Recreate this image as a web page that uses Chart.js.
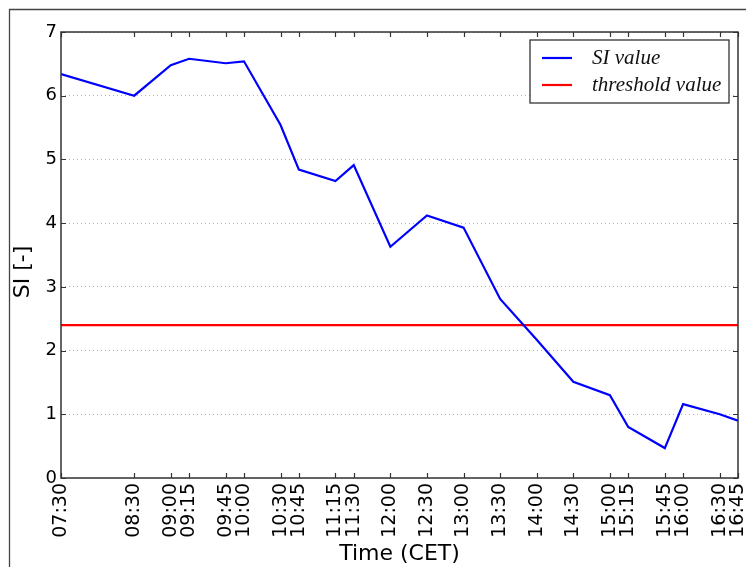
<!DOCTYPE html>
<html>
<head>
<meta charset="utf-8">
<script src="https://cdn.jsdelivr.net/npm/chart.js@4.4.1/dist/chart.umd.min.js"></script>
<style>
    html, body { margin: 0; padding: 0; background: #fff; }
    #wrap { width: 746px; height: 567px; position: relative; }
</style>
</head>
<body>
<div id="wrap"><canvas id="siChart" width="746" height="567"></canvas></div>
<script>
const timeLabels = ["07:30", "08:30", "09:00", "09:15", "09:45", "10:00", "10:30", "10:45",
    "11:15", "11:30", "12:00", "12:30", "13:00", "13:30", "14:00", "14:30",
    "15:00", "15:15", "15:45", "16:00", "16:30", "16:45"];
const siValues = [6.34, 6.0, 6.48, 6.58, 6.51, 6.54, 5.54, 4.84,
    4.66, 4.91, 3.63, 4.12, 3.93, 2.81, 2.17, 1.51,
    1.30, 0.80, 0.47, 1.16, 1.00, 0.90];
const thresholdValue = 2.4;
const yTicks = [0, 1, 2, 3, 4, 5, 6, 7];
const yTitle = "SI [-]";

const toMinutes = t => {
    const [h, m] = t.split(":").map(Number);
    return h * 60 + m;
};
const toLabel = v => {
    const h = Math.floor(v / 60), m = v % 60;
    return String(h).padStart(2, "0") + ":" + String(m).padStart(2, "0");
};
const xMinutes = timeLabels.map(toMinutes);

// figure frame + axes box + inward ticks (like matplotlib)
const framePlugin = {
    id: "frame",
    beforeDraw(chart) {
        const ctx = chart.ctx;
        ctx.save();
        ctx.strokeStyle = "#444";
        ctx.lineWidth = 1.3;
        ctx.beginPath();
        ctx.moveTo(9.5, chart.height);
        ctx.lineTo(9.5, 9.5);
        ctx.lineTo(chart.width, 9.5);
        ctx.stroke();

        // y axis title, sits a bit below the middle in the original
        ctx.translate(23, 272);
        ctx.rotate(-Math.PI / 2);
        ctx.font = "22px 'DejaVu Sans'";
        ctx.fillStyle = "#000";
        ctx.textAlign = "center";
        ctx.textBaseline = "middle";
        ctx.fillText(yTitle, 0, 0);
        ctx.restore();
    },
    afterDraw(chart) {
        const {ctx, chartArea: a, scales} = chart;
        ctx.save();
        ctx.strokeStyle = "#333";
        ctx.lineWidth = 1.2;
        ctx.beginPath();
        scales.x.ticks.forEach(t => {
            const px = Math.round(scales.x.getPixelForValue(t.value)) + 0.5;
            ctx.moveTo(px, a.bottom); ctx.lineTo(px, a.bottom - 5);
            ctx.moveTo(px, a.top); ctx.lineTo(px, a.top + 5);
        });
        scales.y.ticks.forEach(t => {
            const py = Math.round(scales.y.getPixelForValue(t.value)) + 0.5;
            ctx.moveTo(a.left, py); ctx.lineTo(a.left + 5, py);
            ctx.moveTo(a.right, py); ctx.lineTo(a.right - 5, py);
        });
        ctx.stroke();
        ctx.lineWidth = 1.5;
        ctx.strokeRect(a.left, a.top, a.right - a.left, a.bottom - a.top);

        // legend box in the upper right corner
        const bx = a.right - 208, by = a.top + 8, bw = 199, bh = 63;
        ctx.fillStyle = "#fff";
        ctx.fillRect(bx, by, bw, bh);
        ctx.lineWidth = 1.3;
        ctx.strokeStyle = "#333";
        ctx.strokeRect(bx, by, bw, bh);
        ctx.font = "italic 21px 'Liberation Serif'";
        ctx.textBaseline = "middle";
        chart.data.datasets.forEach((ds, i) => {
            const ly = by + 18 + i * 27;
            ctx.strokeStyle = ds.borderColor;
            ctx.lineWidth = 2.2;
            ctx.beginPath();
            ctx.moveTo(bx + 12, ly); ctx.lineTo(bx + 42, ly);
            ctx.stroke();
            ctx.fillStyle = "#111";
            ctx.fillText(ds.label, bx + 62, ly);
        });
        ctx.restore();
    }
};

const ctx = document.getElementById("siChart").getContext("2d");
new Chart(ctx, {
    type: "line",
    data: {
        datasets: [
            {
                label: "SI value",
                data: xMinutes.map((x, i) => ({x: x, y: siValues[i]})),
                borderColor: "#0000ff",
                borderWidth: 2.2,
                pointRadius: 0,
                tension: 0
            },
            {
                label: "threshold value",
                data: xMinutes.map(x => ({x: x, y: thresholdValue})),
                borderColor: "#ff0000",
                borderWidth: 2.2,
                pointRadius: 0,
                tension: 0
            }
        ]
    },
    options: {
        responsive: false,
        animation: false,
        layout: { padding: { top: 32, right: 8, left: 0, bottom: 0 } },
        plugins: { legend: { display: false }, tooltip: { enabled: false } },
        scales: {
            x: {
                type: "linear",
                min: xMinutes[0],
                max: xMinutes[xMinutes.length - 1],
                afterBuildTicks: scale => { scale.ticks = xMinutes.map(v => ({value: v})); },
                afterFit: scale => {
                    scale.height = 89;
                    scale.paddingLeft = 0;
                    scale.paddingRight = 0;
                },
                grid: { display: false, drawTicks: false },
                border: { display: false },
                ticks: {
                    autoSkip: false,
                    minRotation: 90,
                    maxRotation: 90,
                    padding: 5,
                    color: "#000",
                    font: { family: "DejaVu Sans", size: 19 },
                    callback: v => toLabel(v)
                },
                title: {
                    display: true,
                    text: "Time (CET)",
                    color: "#000",
                    font: { family: "DejaVu Sans", size: 22 },
                    padding: { top: 0, bottom: 0 }
                }
            },
            y: {
                min: 0,
                max: 7,
                afterBuildTicks: scale => { scale.ticks = yTicks.map(v => ({value: v})); },
                afterFit: scale => { scale.width = 61; },
                grid: {
                    drawTicks: false,
                    color: "rgba(0,0,0,0.3)",
                    lineWidth: 1
                },
                border: { display: false, dash: [1, 3] },
                ticks: {
                    padding: 4,
                    color: "#000",
                    font: { family: "DejaVu Sans", size: 18 }
                },
                title: { display: false }
            }
        }
    },
    plugins: [framePlugin]
});
</script>
</body>
</html>
